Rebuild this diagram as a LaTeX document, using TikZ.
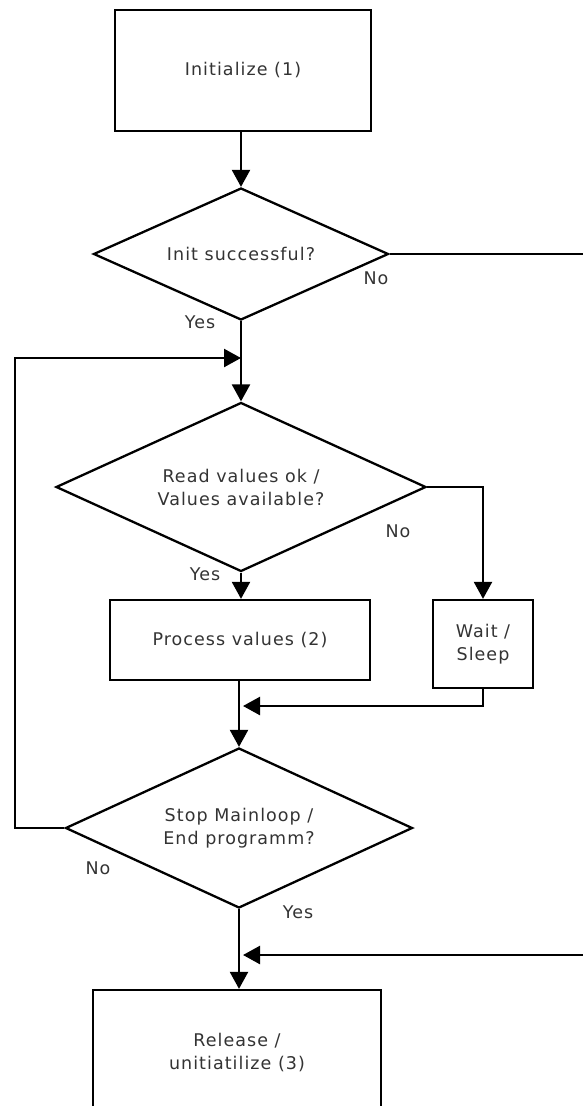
\documentclass[tikz,border=0pt]{standalone}
\usepackage{fontspec}
\setmainfont{DejaVu Sans}[LetterSpace=6]
\usetikzlibrary{shapes.geometric,arrows.meta}
\definecolor{txt}{HTML}{333333}
\tikzset{
  txtfont/.style={text=txt, font=\fontsize{17.5}{23}\selectfont},
  box/.style={draw=black, line width=2.3pt, rectangle, inner sep=0pt, align=center, txtfont},
  decision/.style={draw=black, line width=2.3pt, diamond, inner sep=0pt},
  dtext/.style={label={[align=center, txtfont]center:#1}},
  lbl/.style={text=txt, font=\fontsize{17.5}{20}\selectfont, inner sep=0pt},
  flow/.style={line width=2.4pt, -{Triangle[length=17pt,width=18pt]}},
  plain/.style={line width=2.4pt},
}
\begin{document}
\begin{tikzpicture}[x=1pt,y=-1pt]
  \clip (0,0) rectangle (583,1106);
  \useasboundingbox (0,0) rectangle (583,1106);

  % process boxes
  \node[box, minimum width=256, minimum height=121] (init) at (243,70.5) {Initialize (1)};
  \node[box, minimum width=260, minimum height=80] (proc) at (240,640) {Process values (2)};
  \node[box, minimum width=100, minimum height=88] (wait) at (483,644) {Wait /\\Sleep};
  \node[box, minimum width=288, minimum height=124] (rel) at (237,1052) {Release /\\unitiatilize (3)};

  % decisions (fixed outline size, text laid on top)
  \node[decision, minimum width=295, minimum height=132,
        dtext={Init successful?}] (d1) at (241,254) {};
  \node[decision, minimum width=370, minimum height=169,
        dtext={Read values ok /\\Values available?}] (d2) at (241,487) {};
  \node[decision, minimum width=347, minimum height=160,
        dtext={Stop Mainloop /\\End programm?}] (d3) at (239,828) {};

  % branch labels
  \node[lbl] (no1) at (376,278) {No};
  \node[lbl] (yes1) at (200,322) {Yes};
  \node[lbl] (no2) at (398,531) {No};
  \node[lbl] (yes2) at (205,574) {Yes};
  \node[lbl] (no3) at (98,868) {No};
  \node[lbl] (yes3) at (298,912) {Yes};

  % junctions and open ends
  \coordinate (j1) at (241,358);
  \coordinate (j2) at (243,706);
  \coordinate (j3) at (243,955);
  \coordinate (exitR) at (590,254);
  \coordinate (entR) at (590,955);
  \coordinate (loopL) at (15,828);

  % connectors
  \draw[flow] (d1.north |- init.south) -- (d1.north);
  \draw[plain] (d1.east) -- (exitR);
  \draw[flow] (d1.south) -- (d2.north);
  \draw[flow] (d3.west) -- (loopL) |- (j1);
  \draw[flow] (d2.south) -- (d2.south |- proc.north);
  \draw[flow] (d2.east) -| (wait.north);
  \draw[flow] (wait.south) |- (j2);
  \draw[flow] (d3.north |- proc.south) -- (d3.north);
  \draw[flow] (d3.south) -- (d3.south |- rel.north);
  \draw[flow] (entR) -- (j3);
\end{tikzpicture}
\end{document}
